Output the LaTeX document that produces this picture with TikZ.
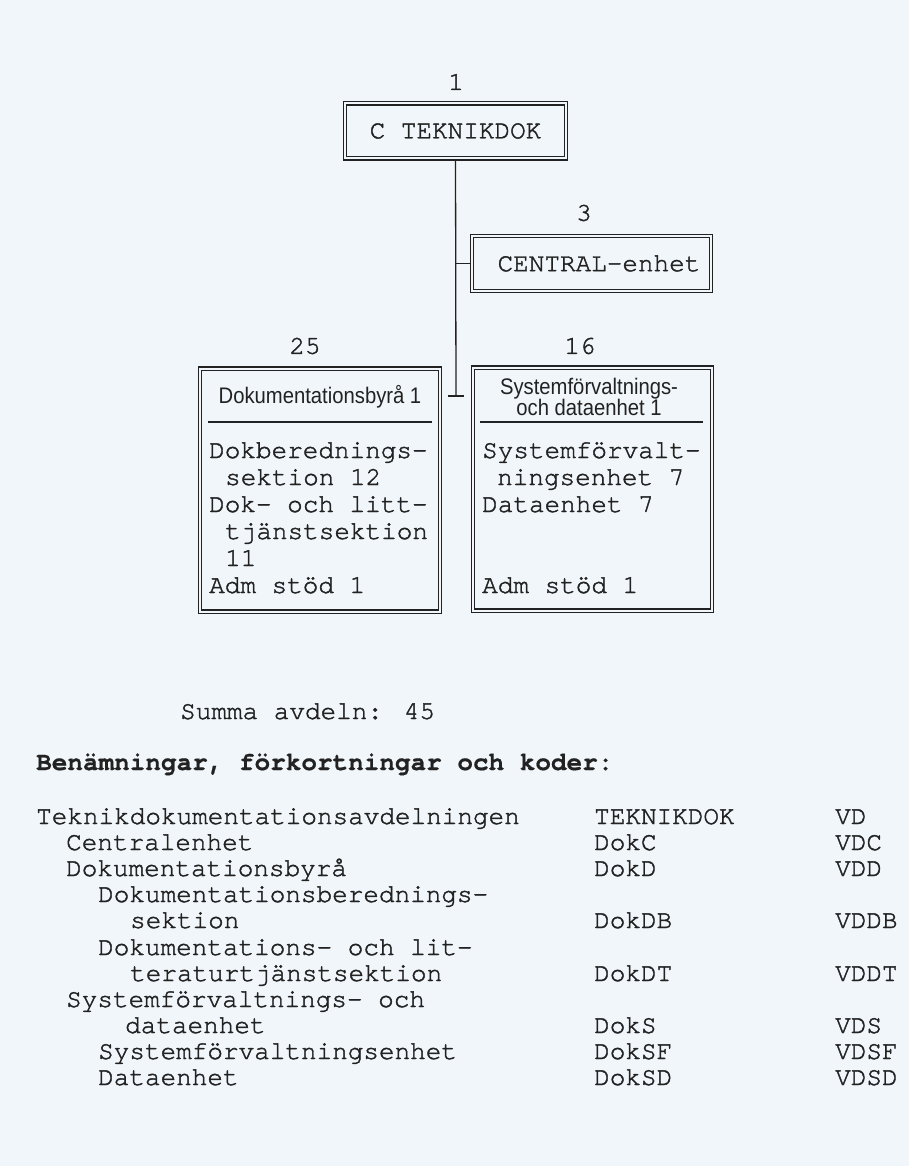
\documentclass[tikz,border=0pt]{standalone}
\usepackage{fontspec}
\setmainfont{texgyrecursor}[Extension=.otf, UprightFont=*-regular, BoldFont=*-bold,
  UprightFeatures={FakeBold=1.6}, BoldFeatures={FakeBold=0.6}]
\newfontfamily\hdrfont[FakeStretch=0.9]{Liberation Sans}
\definecolor{bg}{RGB}{240,246,250}
\definecolor{ink}{RGB}{34,34,34}
\tikzset{
  mono/.style={font=\fontsize{26}{28}\selectfont, text=ink, inner sep=0pt},
  monob/.style={font=\fontsize{26}{28}\selectfont\bfseries, text=ink, inner sep=0pt},
  hdr/.style={font=\hdrfont\fontsize{22.5}{21}\selectfont, text=ink, inner sep=0pt, align=center},
  dbox/.style={draw=ink, line width=1.1pt, double=bg, double distance=2pt, inner sep=0pt,
    font=\fontsize{26}{28}\selectfont, text=ink},
  wire/.style={draw=ink, line width=1.3pt},
  sepline/.style={draw=ink, line width=1.6pt},
  line/.style={mono, anchor=base west},
}
\begin{document}
\begin{tikzpicture}[x=1pt,y=-1pt]
\fill[bg] (0,0) rectangle (909,1166);
\useasboundingbox (0,0) rectangle (909,1166);

% top box
\node[mono] (n1) at (456,82) {1};
\node[dbox, minimum width=221pt, minimum height=55pt] (C) at (455.5,131) {C TEKNIKDOK};

% central unit
\node[mono] (n3) at (584,213) {3};
\node[dbox, minimum width=239pt, minimum height=55pt] (Cen) at (591.5,263.5) {\hspace*{15pt}CENTRAL-enhet};

% lower boxes
\node[mono] (n25) at (305,346) {25};
\node[mono] (n16) at (580,346) {16};
\node[dbox, minimum width=240pt, minimum height=243pt] (L) at (320,490) {};
\node[dbox, minimum width=239pt, minimum height=243pt] (R) at (592.5,489) {};

% spine
\coordinate (spineEnd) at (456,396);
\draw[wire] (C.south) -- (spineEnd);
\draw[wire] (C.south |- Cen.west) -- (Cen.west);
\draw[wire] ([xshift=-8pt]spineEnd) -- ([xshift=8pt]spineEnd);

% left box content
\node[hdr] (Lh) at (320,397) {Dokumentationsbyrå 1};
\draw[sepline] (208,422) -- (432,422);
\node[line] (l1) at (209,458) {Dokberednings-};
\node[line] (l2) at (225,485) {sektion 12};
\node[line] (l3) at (209,512) {Dok- och litt-};
\node[line] (l4) at (225,539) {tjänstsektion};
\node[line] (l5) at (225,566) {11};
\node[line] (l6) at (209,593) {Adm stöd 1};

% right box content
\node[hdr] (Rh) at (589,397) {Systemförvaltnings-\\och dataenhet 1};
\draw[sepline] (480,422) -- (703,422);
\node[line] (r1) at (482,458) {Systemförvalt-};
\node[line] (r2) at (497,485) {ningsenhet 7};
\node[line] (r3) at (482,512) {Dataenhet 7};
\node[line] (r4) at (482,593) {Adm stöd 1};

% summary
\node[line] (sum) at (180,719) {Summa avdeln: 45};
\node[monob, anchor=base west] (head) at (36,770) {Benämningar, förkortningar och koder:};

% table
\node[line] (t0a) at (36,824) {Teknikdokumentationsavdelningen};
\node[line] (t0b) at (594,824) {TEKNIKDOK};
\node[line] (t0c) at (835,824) {VD};
\node[line] (t1a) at (66,850) {Centralenhet};
\node[line] (t1b) at (594,850) {DokC};
\node[line] (t1c) at (835,850) {VDC};
\node[line] (t2a) at (66,876) {Dokumentationsbyrå};
\node[line] (t2b) at (594,876) {DokD};
\node[line] (t2c) at (835,876) {VDD};
\node[line] (t3a) at (98,902) {Dokumentationsberednings-};
\node[line] (t4a) at (130,928) {sektion};
\node[line] (t4b) at (594,928) {DokDB};
\node[line] (t4c) at (835,928) {VDDB};
\node[line] (t5a) at (98,955) {Dokumentations- och lit-};
\node[line] (t6a) at (130,981) {teraturtjänstsektion};
\node[line] (t6b) at (594,981) {DokDT};
\node[line] (t6c) at (835,981) {VDDT};
\node[line] (t7a) at (66,1007) {Systemförvaltnings- och};
\node[line] (t8a) at (125,1033) {dataenhet};
\node[line] (t8b) at (594,1033) {DokS};
\node[line] (t8c) at (835,1033) {VDS};
\node[line] (t9a) at (98,1059) {Systemförvaltningsenhet};
\node[line] (t9b) at (594,1059) {DokSF};
\node[line] (t9c) at (835,1059) {VDSF};
\node[line] (t10a) at (98,1085) {Dataenhet};
\node[line] (t10b) at (594,1085) {DokSD};
\node[line] (t10c) at (835,1085) {VDSD};
\end{tikzpicture}
\end{document}
